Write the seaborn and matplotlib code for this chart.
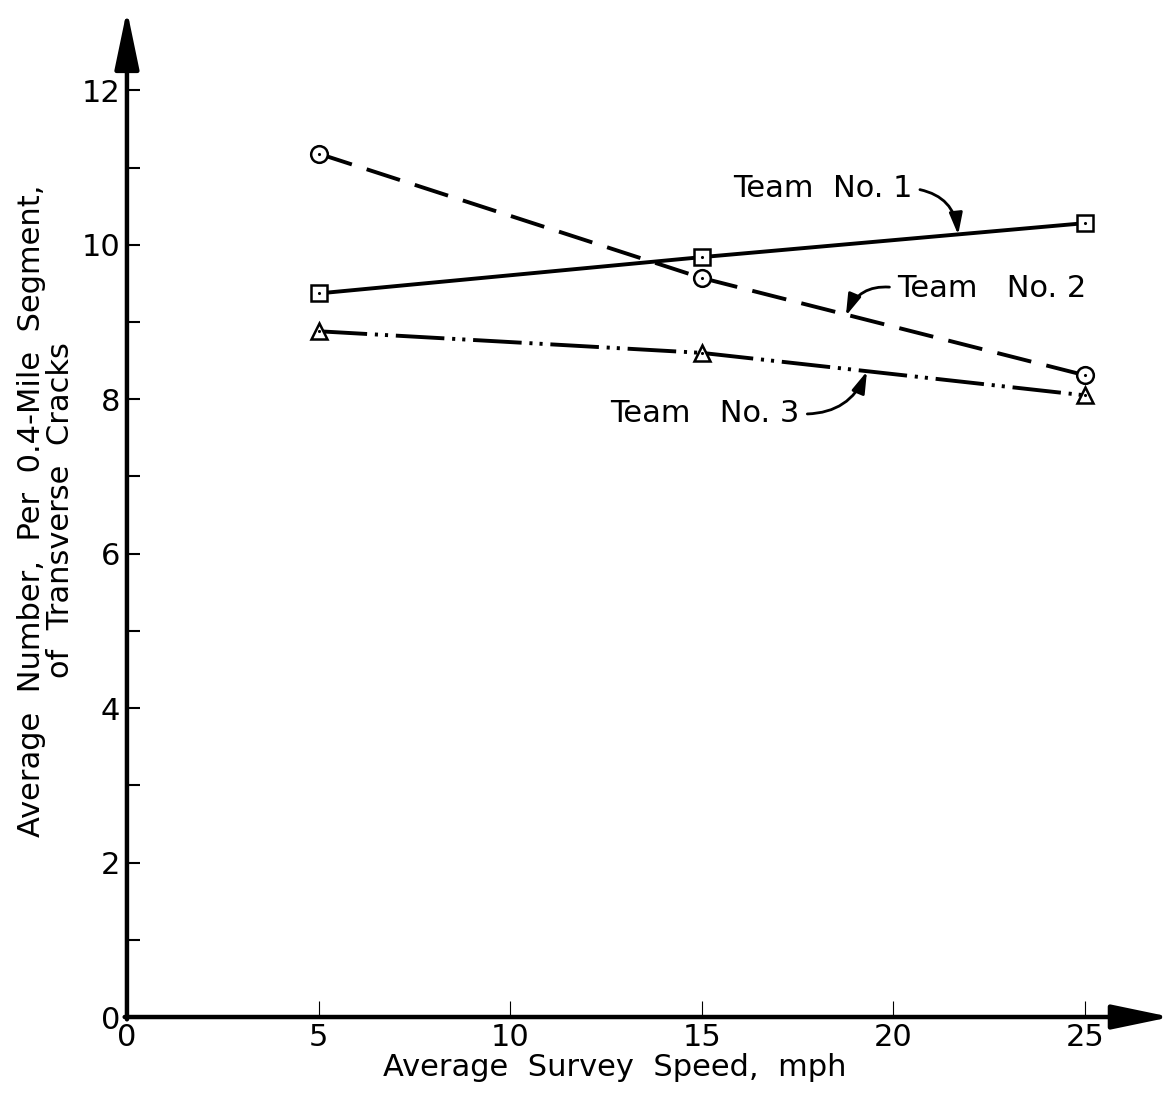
import matplotlib
matplotlib.use("Agg")
import matplotlib.pyplot as plt
import pandas as pd
import seaborn as sns

# --- values ---
speeds = [5, 15, 25]
team1_cracks = [9.37, 9.84, 10.28]
team2_cracks = [11.18, 9.57, 8.31]
team3_cracks = [8.88, 8.60, 8.05]
team_names = ["Team  No. 1", "Team   No. 2", "Team   No. 3"]
x_ticks = [0, 5, 10, 15, 20, 25]
y_ticks = [0, 2, 4, 6, 8, 10, 12]
y_minor_ticks = [1, 3, 5, 7, 9, 11]

df = pd.DataFrame({
    "speed": speeds * 3,
    "cracks": team1_cracks + team2_cracks + team3_cracks,
    "team": [n for n in team_names for _ in speeds],
})

sns.set_style("ticks")
plt.rcParams["font.family"] = ["DejaVu Sans"]
for key in ["text.color", "axes.labelcolor", "xtick.color", "ytick.color"]:
    plt.rcParams[key] = "black"

fig = plt.figure(figsize=(11.69, 10.99), dpi=100)
ax = fig.add_axes([0.1086, 0.0746, 0.8897, 0.9163])

markers = {team_names[0]: "s", team_names[1]: "o", team_names[2]: "^"}
dashes = {team_names[0]: "", team_names[1]: (9, 4), team_names[2]: (12.5, 2, 0.8, 1.8, 0.8, 2)}

sns.lineplot(data=df, x="speed", y="cracks", style="team", markers=markers, dashes=dashes,
             color="black", lw=2.8, markersize=12, markerfacecolor="white",
             markeredgecolor="black", markeredgewidth=1.8, errorbar=None,
             legend=False, ax=ax)
# little dot in the middle of each open symbol
sns.scatterplot(data=df, x="speed", y="cracks", color="black", s=5, linewidth=0,
                zorder=4, legend=False, ax=ax)

x_top, y_top = 27.14, 13.04
ax.set_xlim(0, x_top)
ax.set_ylim(0, y_top)

# axes drawn as arrows
for sp in ax.spines.values():
    sp.set_visible(False)
axis_arrow = dict(arrowstyle="-|>,head_length=3.6,head_width=0.75", mutation_scale=10,
                  lw=3.2, color="black", shrinkA=0, shrinkB=0)
ax.annotate("", xy=(0, y_top), xytext=(0, -0.03), arrowprops=axis_arrow, annotation_clip=False)
ax.annotate("", xy=(x_top + 0.1, 0), xytext=(-0.06, 0), arrowprops=axis_arrow, annotation_clip=False)

ax.set_xticks(x_ticks)
ax.set_yticks(y_ticks)
ax.set_yticks(y_minor_ticks, minor=True)
ax.tick_params(axis="y", which="both", direction="in", length=9.5, width=1.5, pad=5, labelsize=22)
ax.tick_params(axis="x", direction="in", length=11.5, width=0.8, pad=4.5, labelsize=22)

ax.set_xlabel("Average  Survey  Speed,  mph", fontsize=22)
ax.xaxis.set_label_coords(0.469, -0.036)
ax.set_ylabel("Average  Number,  Per  0.4-Mile  Segment,\nof  Transverse  Cracks",
              fontsize=22, multialignment="center", linespacing=1.0)
ax.yaxis.set_label_coords(-0.05, 0.503)

# curved arrow labels
def label(text, tip, pos, ha, rad, relpos):
    ax.annotate(text, xy=tip, xytext=pos, ha=ha, va="center", fontsize=22,
                arrowprops=dict(arrowstyle="-|>,head_length=0.65,head_width=0.2",
                                connectionstyle=f"arc3,rad={rad}", lw=2, color="black",
                                relpos=relpos, shrinkA=3, shrinkB=0, mutation_scale=20))

label(team_names[0], (21.69, 10.13), (20.5, 10.73), "right", -0.4, (1, 0.5))
label(team_names[1], (18.76, 9.08), (20.09, 9.44), "left", 0.4, (0, 0.5))
label(team_names[2], (19.31, 8.36), (17.56, 7.81), "right", 0.35, (1, 0.5))

fig.savefig("out.png", dpi=100)
